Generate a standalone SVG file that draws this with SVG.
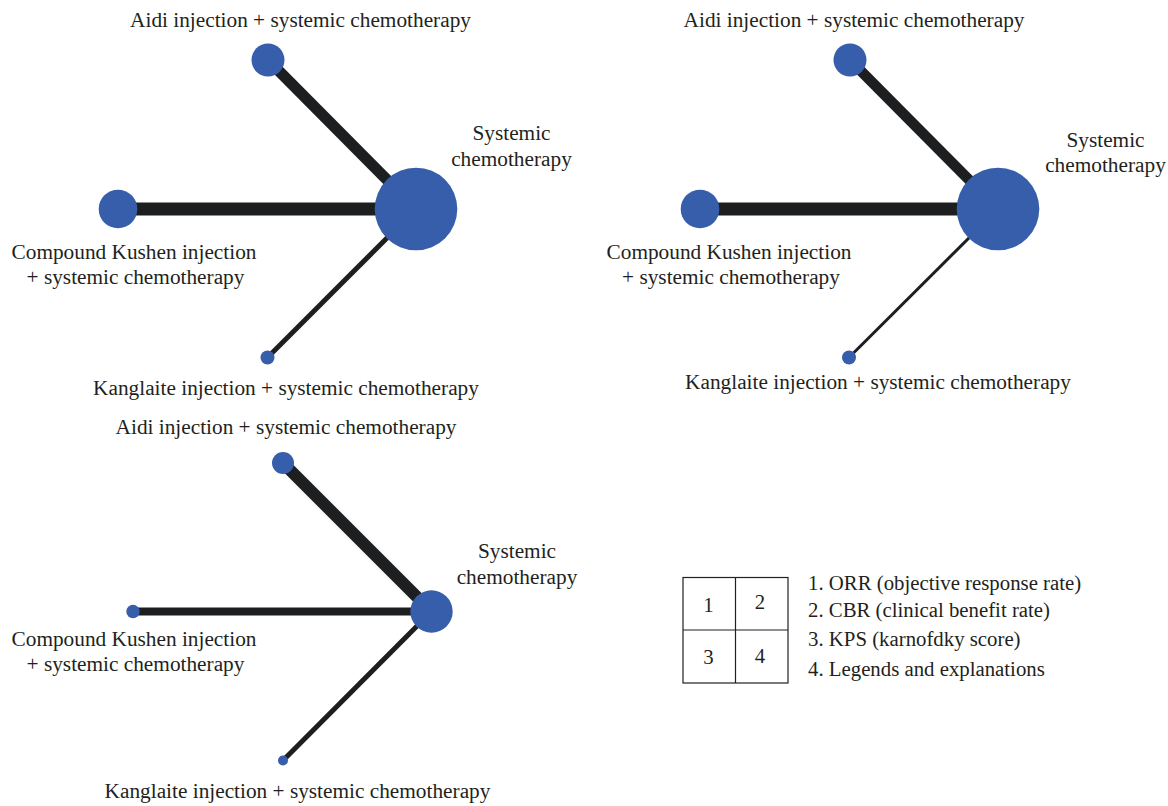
<svg xmlns="http://www.w3.org/2000/svg" width="1168" height="806" viewBox="0 0 1168 806">
<style>
.lbl{font-family:"Liberation Serif","Times New Roman",serif;font-size:21.3px;fill:#231f20}
.leg{font-family:"Liberation Serif","Times New Roman",serif;font-size:20.8px;fill:#231f20}
.mid{text-anchor:middle}
.node{fill:#365eab}
.edge{stroke:#1d1e20;stroke-linecap:butt;fill:none}
.grid{fill:none;stroke:#231f20;stroke-width:1.2}
</style>
<rect width="1168" height="806" fill="#ffffff"/>
<g id="connectors">
  <line class="edge" x1="268" y1="60" x2="416" y2="209" stroke-width="11"/>
  <line class="edge" x1="118" y1="209" x2="416" y2="209" stroke-width="13"/>
  <line class="edge" x1="267.5" y1="357.5" x2="416" y2="209" stroke-width="5"/>
  <line class="edge" x1="850" y1="60" x2="998" y2="209" stroke-width="10.5"/>
  <line class="edge" x1="700" y1="209" x2="998" y2="209" stroke-width="13"/>
  <line class="edge" x1="849" y1="357.5" x2="998" y2="209" stroke-width="3"/>
  <line class="edge" x1="283" y1="463" x2="431.5" y2="611.5" stroke-width="12"/>
  <line class="edge" x1="133" y1="611.5" x2="431.5" y2="611.5" stroke-width="8"/>
  <line class="edge" x1="283" y1="760.5" x2="431.5" y2="611.5" stroke-width="5"/>
</g>
<g id="p1-aidi"><circle class="node" cx="268" cy="60" r="16.5"/><text class="lbl mid" x="300.5" y="27">Aidi injection + systemic chemotherapy</text></g>
<g id="p1-systemic"><circle class="node" cx="416" cy="209" r="41.3"/><text class="lbl mid" x="511.5" y="140">Systemic</text><text class="lbl mid" x="511.5" y="166">chemotherapy</text></g>
<g id="p1-kushen"><circle class="node" cx="118" cy="209" r="19.3"/><text class="lbl mid" x="134" y="259">Compound Kushen injection</text><text class="lbl mid" x="135.5" y="284">+ systemic chemotherapy</text></g>
<g id="p1-kanglaite"><circle class="node" cx="267.5" cy="357.5" r="7"/><text class="lbl mid" x="286" y="395">Kanglaite injection + systemic chemotherapy</text></g>
<g id="p2-aidi"><circle class="node" cx="850" cy="60" r="16.5"/><text class="lbl mid" x="854" y="27">Aidi injection + systemic chemotherapy</text></g>
<g id="p2-systemic"><circle class="node" cx="998" cy="209" r="41.3"/><text class="lbl mid" x="1105.5" y="147">Systemic</text><text class="lbl mid" x="1105.5" y="172">chemotherapy</text></g>
<g id="p2-kushen"><circle class="node" cx="700" cy="209" r="19.3"/><text class="lbl mid" x="729" y="259">Compound Kushen injection</text><text class="lbl mid" x="731" y="284">+ systemic chemotherapy</text></g>
<g id="p2-kanglaite"><circle class="node" cx="849" cy="357.5" r="7"/><text class="lbl mid" x="878" y="389">Kanglaite injection + systemic chemotherapy</text></g>
<g id="p3-aidi"><circle class="node" cx="283" cy="463" r="11"/><text class="lbl mid" x="286" y="434">Aidi injection + systemic chemotherapy</text></g>
<g id="p3-systemic"><circle class="node" cx="431.5" cy="611.5" r="21.2"/><text class="lbl mid" x="517" y="558">Systemic</text><text class="lbl mid" x="517" y="584">chemotherapy</text></g>
<g id="p3-kushen"><circle class="node" cx="133" cy="611.5" r="6.7"/><text class="lbl mid" x="134" y="646">Compound Kushen injection</text><text class="lbl mid" x="135.5" y="671">+ systemic chemotherapy</text></g>
<g id="p3-kanglaite"><circle class="node" cx="283" cy="760.5" r="5"/><text class="lbl mid" x="297.5" y="798">Kanglaite injection + systemic chemotherapy</text></g>
<g id="legend">
  <rect class="grid" x="683" y="577.5" width="105" height="105.5"/>
  <line class="grid" x1="735.5" y1="577.5" x2="735.5" y2="683"/>
  <line class="grid" x1="683" y1="630" x2="788" y2="630"/>
  <text class="leg mid" x="708.5" y="612">1</text>
  <text class="leg mid" x="760" y="609">2</text>
  <text class="leg mid" x="708.5" y="664">3</text>
  <text class="leg mid" x="760" y="663">4</text>
  <text class="leg" x="808" y="590">1. ORR (objective response rate)</text>
  <text class="leg" x="808" y="617">2. CBR (clinical benefit rate)</text>
  <text class="leg" x="808" y="646">3. KPS (karnofdky score)</text>
  <text class="leg" x="808" y="676">4. Legends and explanations</text>
</g>
</svg>
